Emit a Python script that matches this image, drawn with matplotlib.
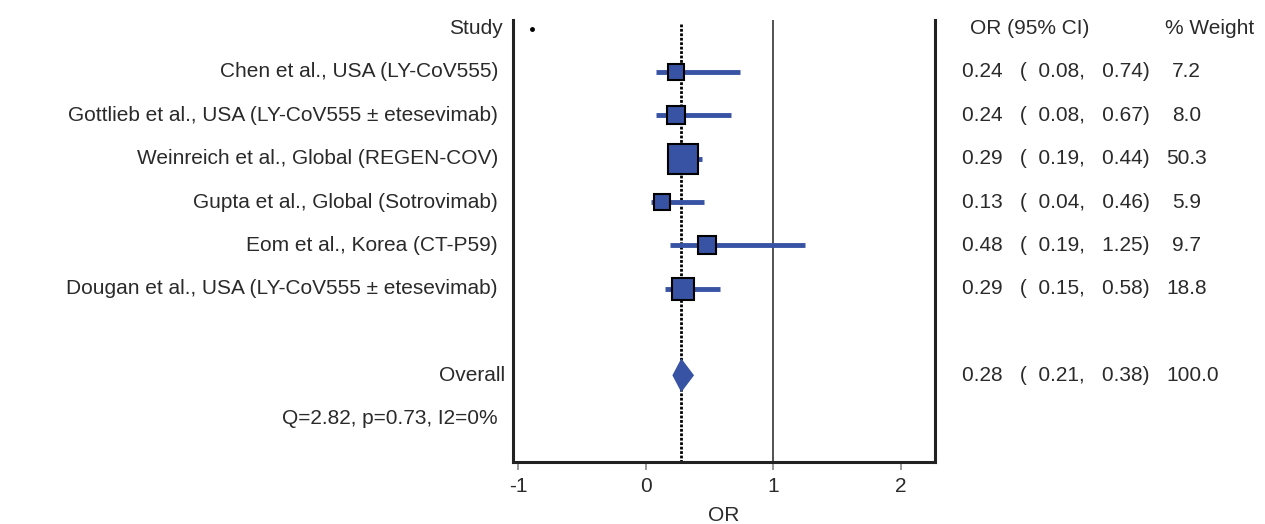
import numpy as np
import matplotlib.pyplot as plt
from matplotlib.transforms import blended_transform_factory

plt.rcParams['font.family'] = ['Liberation Sans', 'DejaVu Sans']

# study data
studies = ["Chen et al., USA (LY-CoV555)",
           "Gottlieb et al., USA (LY-CoV555 \u00b1 etesevimab)",
           "Weinreich et al., Global (REGEN-COV)",
           "Gupta et al., Global (Sotrovimab)",
           "Eom et al., Korea (CT-P59)",
           "Dougan et al., USA (LY-CoV555 \u00b1 etesevimab)"]
or_vals = [0.24, 0.24, 0.29, 0.13, 0.48, 0.29]
ci_low = [0.08, 0.08, 0.19, 0.04, 0.19, 0.15]
ci_high = [0.74, 0.67, 0.44, 0.46, 1.25, 0.58]
weights = [7.2, 8.0, 50.3, 5.9, 9.7, 18.8]

overall_or = 0.28
overall_low = 0.21
overall_high = 0.38
het_text = "Q=2.82, p=0.73, I2=0%"

xticks = [-1, 0, 1, 2]

blue = "#3953a4"
txt = "#2a2a2a"

fig = plt.figure(figsize=(12.65, 5.24), dpi=100)
ax = fig.add_axes([513/1265, 1-462/524, (935-513)/1265, (462-20)/524])

rows = np.arange(1, len(studies)+1)
overall_row = len(studies) + 2
het_row = overall_row + 1

ax.set_xlim(-1.04, 2.27)
ax.set_ylim(10.0, -0.2)

# reference lines
ax.axvline(1, color="#444444", lw=1.3, zorder=1)
ax.plot([overall_or, overall_or], [-0.1, 10.0], color="black", lw=2, ls=(0, (1, 0.6)), zorder=2)

# CIs and squares
for r, o, lo, hi, w in zip(rows, or_vals, ci_low, ci_high, weights):
    ax.plot([lo, hi], [r, r], color=blue, lw=3.5, solid_capstyle="butt", zorder=3)
    side = 8 + 3.2*np.sqrt(w)
    ax.plot(o, r, marker="s", ms=side*0.72, mfc=blue, mec="black", mew=1.5, zorder=4)

# overall diamond
dh = 0.39
ax.fill([overall_low, overall_or, overall_high, overall_or],
        [overall_row, overall_row-dh, overall_row, overall_row+dh],
        color=blue, zorder=5, lw=0)

# stray dot at header row
ax.plot(-0.89, 0, marker="o", ms=2.5, color="black")

for s in ["left", "right", "bottom"]:
    ax.spines[s].set_linewidth(2.2)
    ax.spines[s].set_color("#222222")
ax.spines["top"].set_visible(False)
ax.set_yticks([])
ax.set_xticks(xticks)
ax.set_xticklabels([str(t) for t in xticks])
ax.tick_params(axis="x", labelsize=15, color="#888888", labelcolor=txt, length=6, width=1.2, pad=5)
ax.set_xlabel("OR", fontsize=15, labelpad=7, color=txt)

tr = blended_transform_factory(fig.transFigure, ax.transData)
fs = 15
lab_x = 498/1265
ax.text(503/1265, 0, "Study", transform=tr, ha="right", va="center", fontsize=fs, color=txt)
for r, name in zip(rows, studies):
    ax.text(lab_x, r, name, transform=tr, ha="right", va="center", fontsize=fs, color=txt)
ax.text(505/1265, overall_row, "Overall", transform=tr, ha="right", va="center", fontsize=fs, color=txt)
ax.text(lab_x, het_row, het_text, transform=tr, ha="right", va="center", fontsize=fs, color=txt)

# right columns
ci_x = 962/1265
w_x = 1166/1265
ax.text(970/1265, 0, "OR (95% CI)", transform=tr, ha="left", va="center", fontsize=fs, color=txt)
ax.text(1165/1265, 0, "% Weight", transform=tr, ha="left", va="center", fontsize=fs, color=txt)
for r, o, lo, hi, w in zip(rows, or_vals, ci_low, ci_high, weights):
    ax.text(ci_x, r, f"{o:.2f}   (  {lo:.2f},   {hi:.2f})", transform=tr, ha="left", va="center",
            fontsize=fs, color=txt)
    wx = w_x if w >= 10 else w_x + 6/1265
    ax.text(wx, r, f"{w:.1f}", transform=tr, ha="left", va="center", fontsize=fs, color=txt)
ax.text(ci_x, overall_row, f"{overall_or:.2f}   (  {overall_low:.2f},   {overall_high:.2f})",
        transform=tr, ha="left", va="center", fontsize=fs, color=txt)
ax.text(w_x, overall_row, "100.0", transform=tr, ha="left", va="center", fontsize=fs, color=txt)

plt.savefig("out.png", dpi=100)
